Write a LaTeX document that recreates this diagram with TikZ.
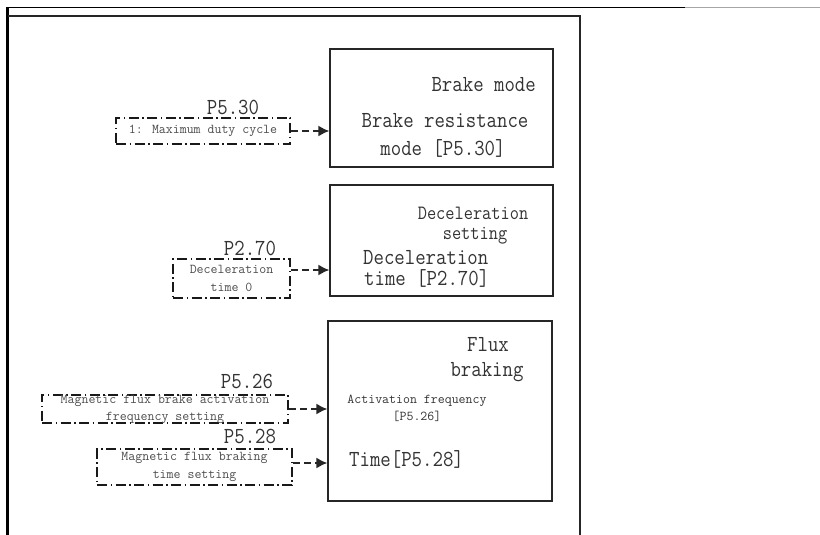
\documentclass[tikz,border=0pt]{standalone}
\usepackage{fontspec}
\usetikzlibrary{arrows.meta}
\newfontfamily\narrowtt[FakeStretch=0.88]{Latin Modern Mono}
\newcommand\bigtxt{\narrowtt\fontsize{23}{27}\selectfont}
\newcommand\midtxt{\narrowtt\fontsize{20.3}{23}\selectfont}
\newcommand\smalltxt{\ttfamily\fontsize{13.5}{17.5}\selectfont}

\begin{document}
\begin{tikzpicture}[x=1pt,y=-1pt,
  mainbox/.style={draw=black!85,line width=1.3pt,inner sep=0pt},
  setbox/.style={draw=black!90,line width=1.5pt,inner sep=0pt,align=center,text=black!70,
    dash pattern=on 10pt off 3.5pt on 1.5pt off 3.5pt},
  txt/.style={inner sep=0pt,text=black!80,font=\bigtxt},
  feed/.style={draw=black!85,line width=1.6pt,dash pattern=on 7pt off 4pt,-{Latex[length=11pt,width=11pt]}}]
\useasboundingbox (0,0) rectangle (820,535);
% frame
\draw[line width=0.9pt] (6,7.5) -- (685,7.5);\draw[line width=0.9pt,black!35] (685,7.5) -- (820,7.5);
\draw[line width=2.6pt] (7.3,7) -- (7.3,535);
\draw[line width=1.4pt,black!85] (8,16) -- (580,16) -- (580,535);
% main boxes
\node[mainbox,minimum width=223,minimum height=118] (brake) at (441.5,108) {};
\node[mainbox,minimum width=223,minimum height=111] (decel) at (441.5,240.5) {};
\node[mainbox,minimum width=224,minimum height=180] (flux) at (440,411) {};
\node[txt,anchor=east] (brakehd) at (536,85) {Brake mode};
\node[txt] (brakel1) at (445,121) {Brake resistance};
\node[txt] (brakel2) at (443,148) {mode [P5.30]};
\node[txt,font=\midtxt] (decelhd1) at (473,213) {Deceleration};
\node[txt,font=\midtxt] (decelhd2) at (475,236) {setting};
\node[txt,anchor=west] (decell1) at (363,257.5) {Deceleration};
\node[txt,anchor=west] (decell2) at (364,278.5) {time [P2.70]};
\node[txt] (fluxhd1) at (488,345) {Flux};
\node[txt] (fluxhd2) at (487,372) {braking};
\node[txt,align=center,font=\smalltxt] (fluxfrq) at (417,408.5) {Activation frequency\\{}[P5.26]};
\node[txt,anchor=west] (fluxtm) at (349,459) {Time[P5.28]};
% parameter boxes
\node[setbox,minimum width=174,minimum height=26,font=\smalltxt] (duty) at (203,131) {1: Maximum duty cycle};
\node[setbox,minimum width=117,minimum height=39,font=\ttfamily\fontsize{13.5}{18}\selectfont] (dectime) at (231.5,278.5) {Deceleration\\time 0};
\node[setbox,minimum width=246,minimum height=28,font=\ttfamily\fontsize{13.5}{17}\selectfont] (fluxfreq) at (165,409) {Magnetic flux brake activation\\frequency setting};
\node[setbox,minimum width=195,minimum height=36,font=\ttfamily\fontsize{13.5}{18}\selectfont] (fluxtime) at (194.5,467) {Magnetic flux braking\\time setting};
\node[txt] (p530) at (233,107) {P5.30};
\node[txt] (p270) at (250,248.5) {P2.70};
\node[txt] (p526) at (247,381) {P5.26};
\node[txt] (p528) at (250,436.5) {P5.28};
% arrows
\draw[feed] (duty.east) -- (duty.east -| brake.west);
\draw[feed] ([yshift=8.5pt]dectime.east) -- ([yshift=8.5pt]dectime.east -| decel.west);
\draw[feed] (fluxfreq.east) -- (fluxfreq.east -| flux.west);
\draw[feed] ([yshift=4pt]fluxtime.east) -- ([yshift=4pt]fluxtime.east -| flux.west);
\end{tikzpicture}
\end{document}
